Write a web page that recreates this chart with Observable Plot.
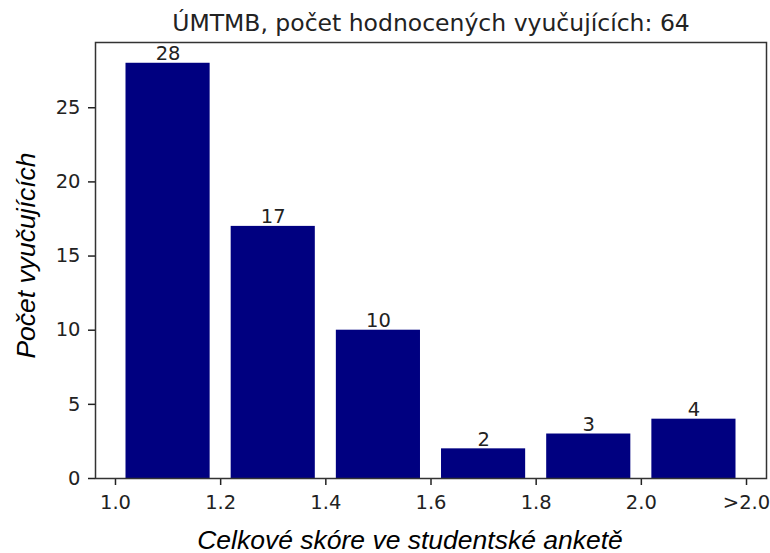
<!DOCTYPE html>
<html><head><meta charset="utf-8">
<script src="https://cdn.jsdelivr.net/npm/d3@7"></script>
<script src="https://cdn.jsdelivr.net/npm/@observablehq/plot@0.6"></script>
<style>body{margin:0;background:#fff}</style>
</head><body><div id="chart"></div>
<script>
const title = "ÚMTMB, počet hodnocených vyučujících: 64";
const xLabel = "Celkové skóre ve studentské anketě";
const yLabel = "Počet vyučujících";
const binStarts = [1.0, 1.2, 1.4, 1.6, 1.8, 2.0];
const counts = [28, 17, 10, 2, 3, 4];
const binWidth = 0.2;
const xTicks = [1.0, 1.2, 1.4, 1.6, 1.8, 2.0, 2.2];
const xTickLabels = ["1.0", "1.2", "1.4", "1.6", "1.8", "2.0", ">2.0"];
const yTicks = [0, 5, 10, 15, 20, 25];

const data = binStarts.map((x0, i) => ({x0, x1: x0 + binWidth, count: counts[i]}));
const rw = 0.8;
const inset = binWidth * (1 - rw) / 2;

const plot = Plot.plot({
  width: 770, height: 553,
  marginLeft: 95, marginRight: 4, marginTop: 42, marginBottom: 75,
  style: {fontFamily: "DejaVu Sans", fontSize: "19.5px", color: "#222", background: "#fff"},
  x: {domain: [0.962, 2.238]},
  y: {domain: [0, 29.4]},
  marks: [
    Plot.rectY(data, {x1: d => d.x0 + inset, x2: d => d.x1 - inset, y: "count", fill: "#000080"}),
    Plot.text(data, {x: d => d.x0 + binWidth / 2, y: "count", text: d => String(d.count), lineAnchor: "bottom", dy: -3, fontSize: 19.5, fill: "#222"}),
    Plot.axisX({ticks: xTicks, tickFormat: d => xTickLabels[xTicks.findIndex(t => Math.abs(t - d) < 1e-9)], tickSize: 7, tickPadding: 10, strokeWidth: 1.5, label: null}),
    Plot.axisY({ticks: yTicks, tickSize: 7, tickPadding: 8, strokeWidth: 1.5, label: null}),
    Plot.frame({stroke: "#333", strokeWidth: 1.5}),
    Plot.text([title], {text: d => d, frameAnchor: "top", lineAnchor: "bottom", dy: -12, fontSize: 23.5, fill: "#222"}),
    Plot.text([xLabel], {text: d => d, frameAnchor: "bottom", textAnchor: "middle", lineAnchor: "bottom", dx: -21, dy: 70, fontSize: 26.5, fontFamily: "Liberation Sans", fontStyle: "italic", fill: "#000"}),
    Plot.text([yLabel], {text: d => d, frameAnchor: "left", textAnchor: "middle", lineAnchor: "bottom", rotate: -90, dx: -60.5, dy: -5, fontSize: 26.5, fontFamily: "Liberation Sans", fontStyle: "italic", fill: "#000"})
  ]
});
document.getElementById("chart").appendChild(plot);
</script>
</body></html>
